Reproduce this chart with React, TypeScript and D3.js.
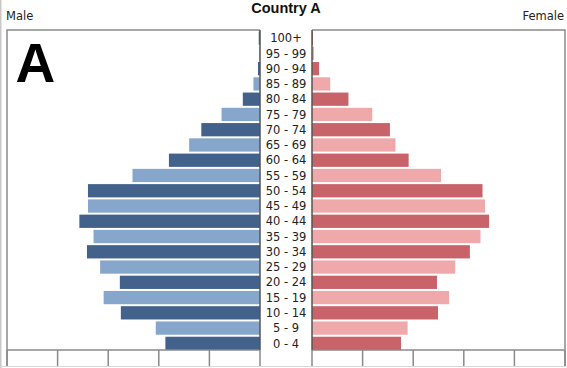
import React from "react";
import * as d3 from "d3";

const ageGroups = ["0 - 4","5 - 9","10 - 14","15 - 19","20 - 24","25 - 29","30 - 34","35 - 39","40 - 44","45 - 49","50 - 54","55 - 59","60 - 64","65 - 69","70 - 74","75 - 79","80 - 84","85 - 89","90 - 94","95 - 99","100+"];
const maleValues = [1.87,2.06,2.75,3.09,2.77,3.16,3.42,3.29,3.57,3.40,3.40,2.52,1.80,1.40,1.16,0.76,0.34,0.13,0.04,0.01,0.025];
const femaleValues = [1.76,1.89,2.49,2.71,2.47,2.83,3.12,3.33,3.50,3.42,3.37,2.55,1.91,1.65,1.54,1.19,0.72,0.36,0.14,0.04,0.02];
const tickValues = [0,1,2,3,4,5];
const title = "Country A";
const leftLabel = "Male";
const rightLabel = "Female";
const panelLetter = "A";

const W = 567, H = 368;
const FONT = "DejaVu Sans, sans-serif";

export default function App() {
  const top = 30, axisY = 350, tickBottom = 366;
  const xL = d3.scaleLinear().domain([0, 5]).range([260, 7]);
  const xR = d3.scaleLinear().domain([0, 5]).range([312, 565]);
  const y = d3.scaleBand<string>().domain([...ageGroups].reverse()).range([top + 1.5, axisY]).paddingInner(0.13).paddingOuter(0);
  const maleColor = (i: number) => (i % 2 === 0 ? "#43628b" : "#87a6cc");
  const femaleColor = (i: number) => (i % 2 === 0 ? "#c9636a" : "#f0a9ab");
  const frame = "#8a8a8a";
  return (
    <svg width={W} height={H} style={{ position: "absolute", left: 0, top: 0 }}>
      <rect x={0} y={0} width={W} height={H} fill="#ffffff" />
      <line x1={0.75} y1={0} x2={0.75} y2={H} stroke="#c8c8c8" strokeWidth={1.5} />
      <text x={286} y={13} textAnchor="middle" fontFamily="Liberation Sans, Arial, sans-serif" fontWeight="bold" fontSize={14.5} fill="#111">{title}</text>
      <text x={6} y={19.5} fontFamily={FONT} fontSize={11.5} fill="#222">{leftLabel}</text>
      <text x={564} y={19.5} textAnchor="end" fontFamily={FONT} fontSize={11.5} fill="#222">{rightLabel}</text>
      {/* frames */}
      <path d={`M${xL(0)},${top}H${xL(5)}V${tickBottom}`} fill="none" stroke={frame} strokeWidth={1.5} />
      <path d={`M${xR(0)},${top}H${xR(5)}V${tickBottom}`} fill="none" stroke={frame} strokeWidth={1.5} />
      <line x1={0} x2={W} y1={tickBottom + 0.5} y2={tickBottom + 0.5} stroke="#d8d8d8" strokeWidth={1} />
      {/* bars */}
      {ageGroups.map((a, i) => (
        <rect key={"m" + a} x={xL(maleValues[i])} y={y(a)} width={xL(0) - xL(maleValues[i])} height={y.bandwidth()} fill={maleColor(i)} />
      ))}
      {ageGroups.map((a, i) => (
        <rect key={"f" + a} x={xR(0)} y={y(a)} width={xR(femaleValues[i]) - xR(0)} height={y.bandwidth()} fill={femaleColor(i)} />
      ))}
      {/* axes */}
      <line x1={xL(5)} x2={xL(0)} y1={axisY} y2={axisY} stroke={frame} strokeWidth={1.5} />
      <line x1={xR(0)} x2={xR(5)} y1={axisY} y2={axisY} stroke={frame} strokeWidth={1.5} />
      {tickValues.map(t => (
        <line key={"tl" + t} x1={xL(t)} x2={xL(t)} y1={axisY} y2={tickBottom} stroke={frame} strokeWidth={1.5} />
      ))}
      {tickValues.map(t => (
        <line key={"tr" + t} x1={xR(t)} x2={xR(t)} y1={axisY} y2={tickBottom} stroke={frame} strokeWidth={1.5} />
      ))}
      <line x1={xL(0)} x2={xL(0)} y1={top} y2={axisY} stroke="#555" strokeWidth={1.5} />
      <line x1={xR(0)} x2={xR(0)} y1={top} y2={axisY} stroke="#555" strokeWidth={1.5} />
      {/* labels */}
      {ageGroups.map(a => (
        <text key={"l" + a} x={286} y={(y(a) as number) + y.bandwidth() / 2} dy="0.36em" textAnchor="middle" fontFamily={FONT} fontSize={11.5} fill="#222">{a}</text>
      ))}
      <text x={15.5} y={82} fontFamily="Liberation Sans, Arial, sans-serif" fontWeight="bold" fontSize={55} fill="#000">{panelLetter}</text>
    </svg>
  );
}
